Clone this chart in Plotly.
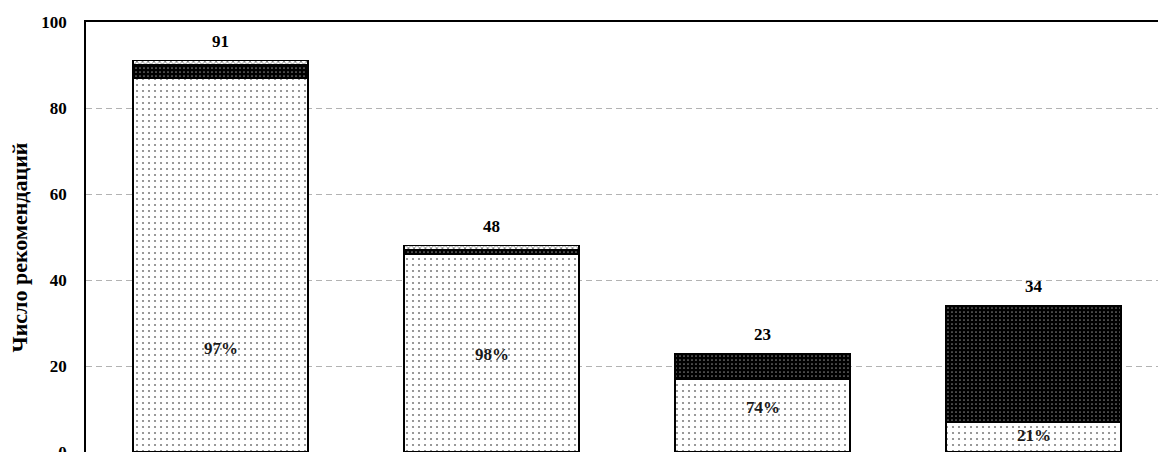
import plotly.graph_objects as go

categories = [0, 1, 2, 3]
light_values = [87, 46, 17, 7]
dark_values = [3, 1, 6, 27]
top_values = [1, 1, 0, 0]
totals = [91, 48, 23, 34]
pct_labels = ["97%", "98%", "74%", "21%"]
pct_label_y = [24.1, 22.7, 10.4, 3.9]
y_ticks = [0, 20, 40, 60, 80, 100]

FONT = "Liberation Serif"
W, H = 1158, 472
ML, MT, MB = 86, 22, 20

fig = go.Figure()
fig.add_trace(go.Bar(
    x=categories, y=light_values, width=0.646,
    marker=dict(color="white", line=dict(color="black", width=1.2),
                pattern=dict(shape=".", bgcolor="white", fgcolor="black", size=6, solidity=0.1)),
    showlegend=False, hoverinfo="skip"))
fig.add_trace(go.Bar(
    x=categories, y=dark_values, width=0.646,
    marker=dict(color="black", line=dict(color="black", width=1.2),
                pattern=dict(shape=".", bgcolor="black", fgcolor="white", size=4, solidity=0.15)),
    showlegend=False, hoverinfo="skip"))
fig.add_trace(go.Bar(
    x=categories, y=top_values, width=0.646,
    marker=dict(color="white", line=dict(color="black", width=1.2),
                pattern=dict(shape="x", bgcolor="white", fgcolor="black", size=4, solidity=0.4)),
    showlegend=False, hoverinfo="skip"))

annotations = []
for c, t in zip(categories, totals):
    annotations.append(dict(x=c, y=t, xref="x", yref="y", text="<b>%d</b>" % t,
                            showarrow=False, yanchor="middle", yshift=19,
                            font=dict(family=FONT, size=17, color="black")))
for c, p, py in zip(categories, pct_labels, pct_label_y):
    annotations.append(dict(x=c, y=py, xref="x", yref="y", text="<b>%s</b>" % p,
                            showarrow=False, yanchor="middle",
                            font=dict(family=FONT, size=17, color="#1a1a1a")))
annotations.append(dict(x=(19 - ML) / (W - ML), y=(452 - 227.5 - (H - 452)) / (H - MT - MB),
                        xref="paper", yref="paper",
                        text="<b>Число рекомендаций</b>", textangle=-90, showarrow=False,
                        xanchor="center", yanchor="middle",
                        font=dict(family=FONT, size=22, color="black")))

x0 = -(220.5 - ML) / 271.0
x1 = x0 + (W - ML) / 271.0

fig.update_layout(
    barmode="stack",
    width=W, height=H,
    margin=dict(l=ML, r=0, t=MT, b=MB, pad=0),
    paper_bgcolor="white", plot_bgcolor="white",
    annotations=annotations,
    xaxis=dict(range=[x0, x1], showticklabels=False, showgrid=False, zeroline=False,
               showline=True, linecolor="black", linewidth=1.5, mirror=True, ticks=""),
    yaxis=dict(range=[0, 100], tickvals=y_ticks, ticktext=["<b>%d</b>" % v for v in y_ticks],
               tickfont=dict(family=FONT, size=17, color="black"),
               showgrid=True, gridcolor="#b3b3b3", gridwidth=1, griddash="6px,4px",
               zeroline=False, showline=True, linecolor="black", linewidth=1.5,
               ticks="", ticklabelstandoff=14),
)
fig.write_html("out.html", config={"displayModeBar": False},
               post_script="document.body.style.margin='0';document.body.style.overflow='hidden';")
